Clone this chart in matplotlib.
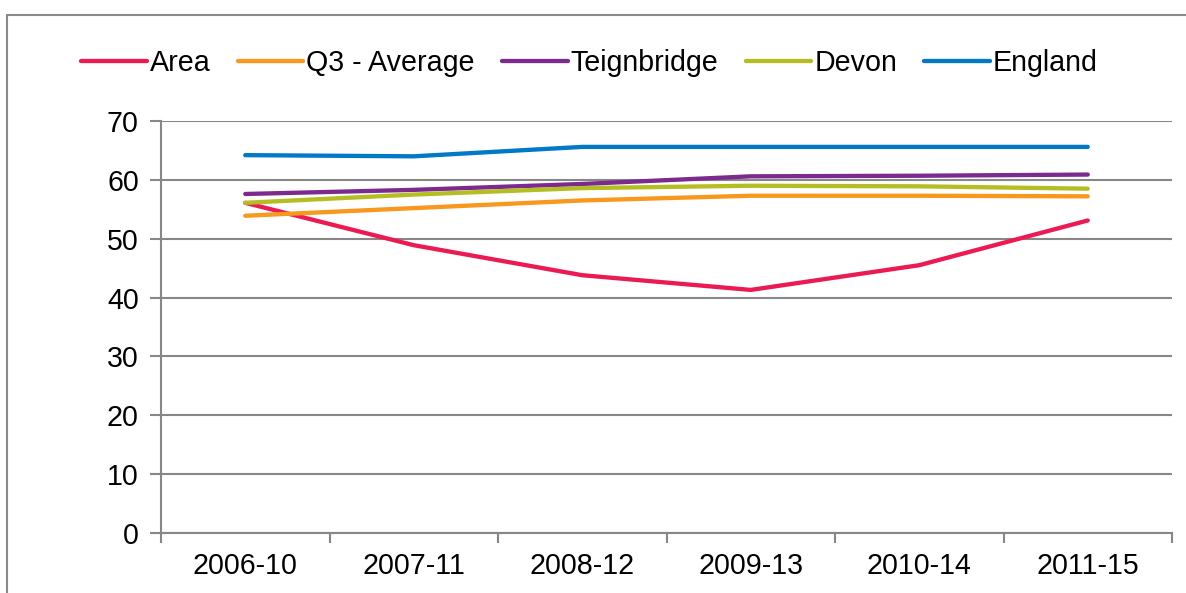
import numpy as np
import matplotlib
matplotlib.use("Agg")
import matplotlib.pyplot as plt
from matplotlib.patches import Rectangle

# DATA

periods = ['2006-10', '2007-11', '2008-12', '2009-13', '2010-14', '2011-15']

area = [56.1, 48.9, 43.8, 41.3, 45.5, 53.1]
q3_average = [53.9, 55.2, 56.5, 57.3, 57.3, 57.2]
teignbridge = [57.6, 58.3, 59.3, 60.6, 60.7, 60.9]
devon = [56.1, 57.5, 58.6, 59.0, 58.9, 58.5]
england = [64.2, 64.0, 65.6, 65.6, 65.6, 65.6]

series_names = ['Area', 'Q3 - Average', 'Teignbridge', 'Devon', 'England']
series_values = [area, q3_average, teignbridge, devon, england]
colors = ['#EC1A52', '#F8981D', '#7D2A8E', '#B4BE22', '#0079C8']

yticks = [0, 10, 20, 30, 40, 50, 60, 70]

# PLOT

plt.rcParams['font.family'] = ['Liberation Sans', 'DejaVu Sans']

fig = plt.figure(figsize=(11.86, 5.93), dpi=100)
ax = fig.add_axes([161 / 1186, 1 - 533 / 593, (1172 - 161) / 1186, (533 - 121) / 593])

x = np.arange(len(periods))
grid_color = '#878787'
fs = 20.6

for name, vals, col in zip(series_names, series_values, colors):
    ax.plot(x, vals, color=col, linewidth=3.1, label=name,
            solid_capstyle='round', solid_joinstyle='round')

ax.set_xlim(-0.5, len(periods) - 0.5)
ax.set_ylim(0, 70)

ax.set_yticks(yticks)
ax.set_yticklabels([str(v) for v in yticks], fontsize=fs)
ax.yaxis.grid(True, color=grid_color, linewidth=1.5)
ax.set_axisbelow(True)

ax.set_xticks(x)
ax.set_xticklabels(periods, fontsize=fs)
ax.set_xticks(np.arange(-0.5, len(periods), 1.0), minor=True)
ax.tick_params(axis='x', which='major', length=0, pad=14)
ax.tick_params(axis='x', which='minor', length=7, width=1.5, color=grid_color)
ax.tick_params(axis='y', length=8, width=1.5, color=grid_color, pad=8)

for side in ['top', 'right']:
    ax.spines[side].set_visible(False)
for side in ['left', 'bottom']:
    ax.spines[side].set_color(grid_color)
    ax.spines[side].set_linewidth(1.5)

leg = fig.legend(loc='center', bbox_to_anchor=(0.497, 1 - 63 / 593), ncol=5,
                 frameon=False, fontsize=fs, handlelength=2.3,
                 handletextpad=0.1, columnspacing=0.95)
for line in leg.get_lines():
    line.set_solid_capstyle('round')

# outer chart border
fig.patches.append(Rectangle((7 / 1186, -0.05), 1.2, 1 - 15 / 593 + 0.05,
                             transform=fig.transFigure, fill=False,
                             edgecolor='#8a8a8a', linewidth=1.5))

fig.savefig('out.png', dpi=100)
